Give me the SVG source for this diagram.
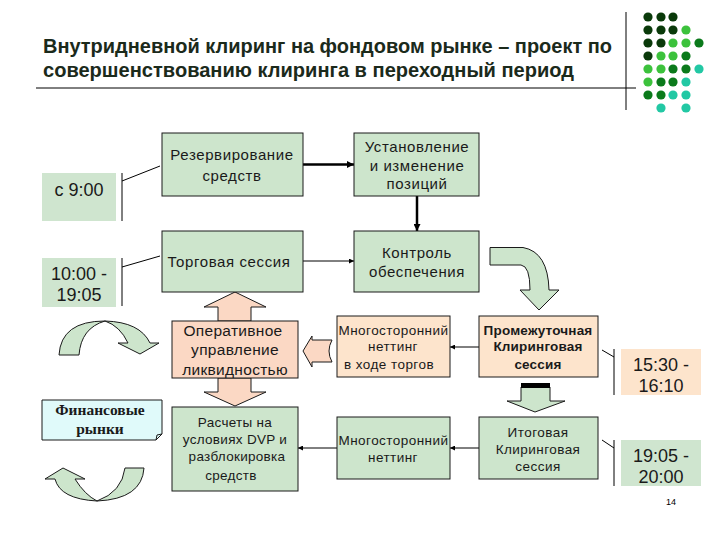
<svg xmlns="http://www.w3.org/2000/svg" width="720" height="540" viewBox="0 0 720 540">
<defs>
<style>
.t{font-family:"Liberation Sans",Arial,sans-serif;fill:#1a1a1a;text-anchor:middle}
.title{font-family:"Liberation Sans",Arial,sans-serif;font-weight:bold;font-size:19.5px;fill:#1b2a1b}
.g{fill:#cde5cc;stroke:#1a1a1a;stroke-width:1}
.p{fill:#fde4cc;stroke:#1a1a1a;stroke-width:1}
.s{fill:#fbd8c4;stroke:#1a1a1a;stroke-width:1}
.tg{fill:#cfe5cf}
.tp{fill:#fde4cc}
.ln{stroke:#000;stroke-width:1;fill:none}
.ba{fill:#cde5cc;stroke:#1a1a1a;stroke-width:1}
.dD{fill:#0a3a0a}.dL{fill:#3cc23c}.dM{fill:#0b7a1b}.dT{fill:#22c8a4}
</style>
<marker id="ah" viewBox="0 0 10 10" refX="10" refY="5" markerWidth="5" markerHeight="5" orient="auto" markerUnits="userSpaceOnUse"><path d="M0,0 L10,5 L0,10 z" fill="#000"/></marker>
<marker id="ahb" viewBox="0 0 10 10" refX="10" refY="5" markerWidth="7" markerHeight="7" orient="auto" markerUnits="userSpaceOnUse"><path d="M0,0 L10,5 L0,10 z" fill="#000"/></marker>
</defs>
<rect width="720" height="540" fill="#fff"/>

<g id="decor">
<line x1="36" y1="88" x2="636" y2="88" class="ln"/>
<line x1="626" y1="12" x2="626" y2="110" class="ln"/>
<g>
<circle cx="648" cy="17" r="4.6" class="dD"/><circle cx="661" cy="17" r="4.6" class="dD"/><circle cx="673" cy="17" r="4.6" class="dD"/>
<circle cx="648" cy="30" r="4.6" class="dD"/><circle cx="661" cy="30" r="4.6" class="dD"/><circle cx="673" cy="30" r="4.6" class="dD"/><circle cx="686" cy="30" r="4.6" class="dL"/>
<circle cx="648" cy="43" r="4.6" class="dD"/><circle cx="661" cy="43" r="4.6" class="dD"/><circle cx="673" cy="43" r="4.6" class="dL"/><circle cx="686" cy="43" r="4.6" class="dL"/><circle cx="699" cy="43" r="4.6" class="dM"/>
<circle cx="648" cy="56" r="4.6" class="dD"/><circle cx="661" cy="56" r="4.6" class="dL"/><circle cx="673" cy="56" r="4.6" class="dL"/><circle cx="686" cy="56" r="4.6" class="dM"/>
<circle cx="648" cy="69" r="4.6" class="dL"/><circle cx="661" cy="69" r="4.6" class="dL"/><circle cx="673" cy="69" r="4.6" class="dM"/><circle cx="686" cy="69" r="4.6" class="dM"/><circle cx="699" cy="69" r="4.6" class="dT"/>
<circle cx="648" cy="82" r="4.6" class="dL"/><circle cx="661" cy="82" r="4.6" class="dM"/><circle cx="673" cy="82" r="4.6" class="dM"/><circle cx="686" cy="82" r="4.6" class="dT"/>
<circle cx="648" cy="95" r="4.6" class="dM"/><circle cx="661" cy="95" r="4.6" class="dM"/><circle cx="673" cy="95" r="4.6" class="dT"/><circle cx="686" cy="95" r="4.6" class="dT"/>
<circle cx="661" cy="108" r="4.6" class="dT"/><circle cx="686" cy="108" r="4.6" class="dT"/>
</g>
</g>

<g id="title">
<text class="title" x="43" y="53" textLength="569" lengthAdjust="spacingAndGlyphs">Внутридневной клиринг на фондовом рынке – проект по</text>
<text class="title" x="43" y="77" textLength="531" lengthAdjust="spacingAndGlyphs">совершенствованию клиринга в переходный период</text>
</g>

<g id="connectors">
<line x1="303" y1="164.5" x2="354" y2="164.5" stroke="#000" stroke-width="2.5" marker-end="url(#ahb)"/>
<line x1="303" y1="261" x2="354" y2="261" stroke="#000" stroke-width="1" marker-end="url(#ah)"/>
<line x1="417" y1="196" x2="417" y2="231" stroke="#000" stroke-width="2.5" marker-end="url(#ahb)"/>
<line x1="479" y1="347" x2="450" y2="347" stroke="#000" stroke-width="1" marker-end="url(#ah)"/>
<line x1="479" y1="448" x2="450" y2="448" stroke="#000" stroke-width="1" marker-end="url(#ah)"/>
<line x1="337" y1="448" x2="298" y2="448" stroke="#000" stroke-width="1" marker-end="url(#ah)"/>
<polyline points="122,181 160,166" class="ln"/>
<line x1="122" y1="173" x2="122" y2="221" class="ln"/>
<polyline points="122,267 160,256" class="ln"/>
<line x1="122" y1="258" x2="122" y2="306" class="ln"/>
<polyline points="602,350 614,357" class="ln"/>
<line x1="614" y1="349" x2="614" y2="395" class="ln"/>
<polyline points="602,440 614,448" class="ln"/>
<line x1="614" y1="440" x2="614" y2="486" class="ln"/>
<path d="M235,292 L266,307 L251,307 L251,321 L218,321 L218,307 L204,307 Z" class="s"/>
<path d="M218,378 L251,378 L251,392 L266,392 L235,406 L204,392 L218,392 Z" class="s"/>
<path d="M303,351 L312,336 L312,340 L332,340 Q326,351 332,362 L312,362 L312,367 Z" class="s"/>
<path d="M490,247.5 L523,247.5 Q548,252 549,290 L559,290 L539,310 L520,290 L530,290 Q530,266 521,265 L490,265 Z" class="ba"/>
<path d="M521,387 L550,387 L550,401 L565,401 L535,412 L507,401 L521,401 Z" class="ba"/>
<rect x="521" y="383" width="29" height="5" fill="#000"/>
<path d="M59,355 Q61,321 105,321 Q140,322 150,343 L159,343 L140,354 L118,343 L128,343 Q120,326 105,321 Q81,328 79,355 Z" class="ba"/>
<path d="M144,468 Q142,499 97,501 Q60,499 55,479 L45,479 L63,468 L85,479 L75,479 Q85,495 97,501 Q122,492 125,468 Z" class="ba"/>
</g>

<g id="t900"><rect x="42" y="173" width="74" height="48" class="tg"/><text class="t" x="79" y="196" font-size="18">с 9:00</text></g>
<g id="t1000"><rect x="42" y="258" width="74" height="49" class="tg"/><text class="t" x="79" y="280" font-size="18">10:00 -</text><text class="t" x="79" y="301" font-size="18">19:05</text></g>
<g id="t1530"><rect x="621" y="349" width="80" height="46" class="tp"/><text class="t" x="661" y="371" font-size="18">15:30 -</text><text class="t" x="661" y="392" font-size="18">16:10</text></g>
<g id="t1905"><rect x="621" y="440" width="80" height="46" class="tg"/><text class="t" x="661" y="462" font-size="18">19:05 -</text><text class="t" x="661" y="483" font-size="18">20:00</text></g>

<g id="reserve"><rect x="162" y="133" width="141" height="63" class="g"/><text class="t" x="232" y="160" font-size="15" letter-spacing="0.6">Резервирование</text><text class="t" x="232" y="181" font-size="15" letter-spacing="0.6">средств</text></g>
<g id="positions"><rect x="354" y="133" width="125" height="63" class="g"/><text class="t" x="417" y="152" font-size="15" letter-spacing="0.6">Установление</text><text class="t" x="417" y="171" font-size="15" letter-spacing="0.6">и изменение</text><text class="t" x="417" y="189" font-size="15" letter-spacing="0.6">позиций</text></g>
<g id="trading"><rect x="162" y="231" width="141" height="61" class="g"/><text class="t" x="229" y="266.5" font-size="15" letter-spacing="0.6">Торговая сессия</text></g>
<g id="control"><rect x="354" y="231" width="125" height="61" class="g"/><text class="t" x="417" y="258" font-size="15" letter-spacing="0.6">Контроль</text><text class="t" x="417" y="276.5" font-size="15" letter-spacing="0.6">обеспечения</text></g>
<g id="liquidity"><rect x="172" y="321" width="126" height="57" class="s"/><text class="t" x="233" y="336" font-size="15.5" letter-spacing="0.3">Оперативное</text><text class="t" x="235" y="355" font-size="15.5" letter-spacing="0.3">управление</text><text class="t" x="235" y="375" font-size="15.5" letter-spacing="0.3">ликвидностью</text></g>
<g id="settle"><rect x="172" y="407" width="126" height="84" class="g"/><text class="t" x="235" y="427" font-size="13.5" letter-spacing="0.3">Расчеты на</text><text class="t" x="235" y="444" font-size="13.5" letter-spacing="0.3">условиях DVP и</text><text class="t" x="237" y="461" font-size="13.5" letter-spacing="0.3">разблокировка</text><text class="t" x="231" y="480" font-size="13.5" letter-spacing="0.3">средств</text></g>
<g id="finmarkets"><path d="M42,400 L162,400 L162,434 L156,440 L42,440 Z" fill="#e0fafa" stroke="#1a1a1a" stroke-width="1"/><path d="M162,434 L157,435 L156,440" fill="none" stroke="#1a1a1a" stroke-width="1"/><text x="100" y="415" font-size="15.5" font-weight="bold" text-anchor="middle" fill="#1a1a1a" font-family="'Liberation Serif','Times New Roman',serif">Финансовые</text><text x="100" y="434" font-size="15.5" font-weight="bold" text-anchor="middle" fill="#1a1a1a" font-family="'Liberation Serif','Times New Roman',serif">рынки</text></g>
<g id="netting1"><rect x="337" y="316" width="113" height="61" class="p"/><text class="t" x="393.5" y="334.5" font-size="13.5" letter-spacing="0.45">Многосторонний</text><text class="t" x="393" y="351" font-size="13.5" letter-spacing="0.45">неттинг</text><text class="t" x="389" y="368.5" font-size="13.5" letter-spacing="0.45">в ходе торгов</text></g>
<g id="interim"><rect x="479" y="316" width="119" height="61" class="p"/><text class="t" x="538" y="334.5" font-size="13.5" font-weight="bold" letter-spacing="0.2">Промежуточная</text><text class="t" x="538" y="351" font-size="13.5" font-weight="bold" letter-spacing="0.2">Клиринговая</text><text class="t" x="538" y="368.5" font-size="13.5" font-weight="bold" letter-spacing="0.2">сессия</text></g>
<g id="netting2"><rect x="337" y="417" width="113" height="62" class="g"/><text class="t" x="393.5" y="444.5" font-size="13.5" letter-spacing="0.45">Многосторонний</text><text class="t" x="393" y="461.5" font-size="13.5" letter-spacing="0.45">неттинг</text></g>
<g id="final"><rect x="479" y="417" width="119" height="62" class="g"/><text class="t" x="538" y="437" font-size="13.5" letter-spacing="0.45">Итоговая</text><text class="t" x="538" y="454" font-size="13.5" letter-spacing="0.45">Клиринговая</text><text class="t" x="538" y="471" font-size="13.5" letter-spacing="0.45">сессия</text></g>
<text x="671" y="505" font-size="9" text-anchor="middle" fill="#000" font-family="'Liberation Sans',Arial,sans-serif">14</text>
</svg>
